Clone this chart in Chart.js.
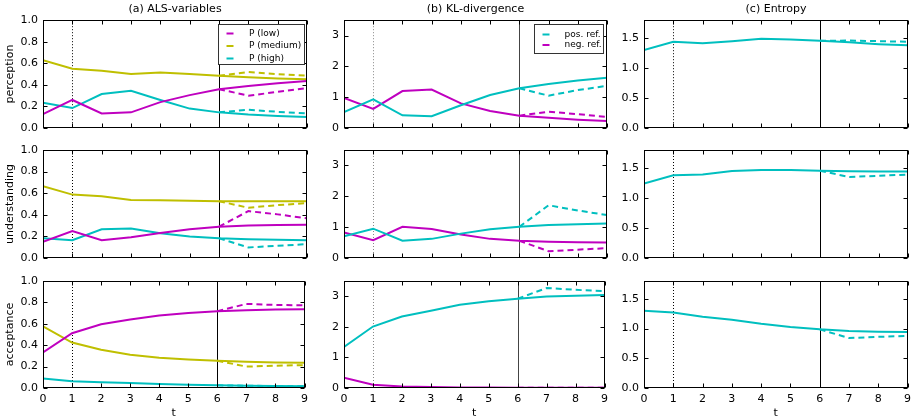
<!DOCTYPE html>
<html>
<head>
<meta charset="utf-8">
<script src="https://cdn.jsdelivr.net/npm/chart.js@4.4.0/dist/chart.umd.min.js"></script>
<style>
  body { margin: 0; background: #fff; }
  #wrap { position: relative; width: 916px; height: 420px; overflow: hidden; }
  #wrap canvas { position: absolute; }
</style>
</head>
<body>
<div id="wrap"></div>
<script>
// ---- data ----
const T = [0, 1, 2, 3, 4, 5, 6, 7, 8, 9]
const T_REF = [6, 7, 8, 9]
const T_TICKS = [0, 1, 2, 3, 4, 5, 6, 7, 8, 9]
const ALS_TICKS = [0, 0.2, 0.4, 0.6, 0.8, 1.0]
const KL_TICKS = [0, 1, 2, 3]
const ENT_TICKS = [0, 0.5, 1.0, 1.5]
const ROW_LABELS = ['perception', 'understanding', 'acceptance']
const COL_TITLES = ['(a) ALS-variables', '(b) KL-divergence', '(c) Entropy']
const ALS_LEGEND = ['P (low)', 'P (medium)', 'P (high)']
const KL_LEGEND = ['pos. ref.', 'neg. ref.']

// perception
const percLow = [0.13, 0.26, 0.135, 0.145, 0.24, 0.305, 0.36, 0.39, 0.415, 0.435]
const percLowRef = [0.36, 0.30, 0.335, 0.37]
const percMed = [0.63, 0.55, 0.53, 0.50, 0.515, 0.50, 0.485, 0.47, 0.46, 0.452]
const percMedRef = [0.485, 0.52, 0.50, 0.485]
const percHigh = [0.235, 0.185, 0.315, 0.345, 0.26, 0.18, 0.145, 0.125, 0.112, 0.103]
const percHighRef = [0.145, 0.17, 0.15, 0.135]
const percKlPos = [0.52, 0.93, 0.41, 0.38, 0.74, 1.07, 1.29, 1.43, 1.54, 1.63]
const percKlPosRef = [1.29, 1.05, 1.23, 1.37]
const percKlNeg = [0.98, 0.62, 1.20, 1.25, 0.80, 0.55, 0.40, 0.33, 0.27, 0.23]
const percKlNegRef = [0.40, 0.53, 0.45, 0.36]
const percEnt = [1.30, 1.44, 1.415, 1.45, 1.49, 1.478, 1.455, 1.43, 1.40, 1.38]
const percEntRef = [1.455, 1.46, 1.45, 1.44]

// understanding
const undLow = [0.15, 0.25, 0.165, 0.193, 0.232, 0.266, 0.29, 0.30, 0.306, 0.309]
const undLowRef = [0.29, 0.434, 0.404, 0.367]
const undMed = [0.664, 0.587, 0.572, 0.538, 0.535, 0.529, 0.526, 0.526, 0.526, 0.526]
const undMedRef = [0.526, 0.465, 0.49, 0.508]
const undHigh = [0.183, 0.165, 0.266, 0.272, 0.229, 0.199, 0.183, 0.174, 0.168, 0.165]
const undHighRef = [0.183, 0.098, 0.113, 0.128]
const undKlPos = [0.70, 0.95, 0.56, 0.62, 0.79, 0.93, 1.01, 1.07, 1.09, 1.12]
const undKlPosRef = [1.01, 1.71, 1.54, 1.39]
const undKlNeg = [0.83, 0.58, 1.01, 0.94, 0.76, 0.62, 0.56, 0.53, 0.51, 0.50]
const undKlNegRef = [0.56, 0.22, 0.27, 0.32]
const undEnt = [1.24, 1.38, 1.39, 1.45, 1.467, 1.467, 1.455, 1.445, 1.44, 1.44]
const undEntRef = [1.455, 1.35, 1.37, 1.39]

// acceptance
const accLow = [0.332, 0.512, 0.595, 0.64, 0.677, 0.70, 0.717, 0.727, 0.733, 0.736]
const accLowRef = [0.717, 0.786, 0.776, 0.773]
const accMed = [0.575, 0.425, 0.357, 0.31, 0.283, 0.267, 0.255, 0.245, 0.239, 0.236]
const accMedRef = [0.255, 0.20, 0.208, 0.214]
const accHigh = [0.09, 0.062, 0.053, 0.047, 0.037, 0.031, 0.025, 0.022, 0.019, 0.016]
const accHighRef = [0.025, 0.021, 0.018, 0.016]
const accKlPos = [1.34, 2.01, 2.34, 2.53, 2.72, 2.84, 2.92, 2.99, 3.02, 3.04]
const accKlPosRef = [2.92, 3.27, 3.21, 3.17]
const accKlNeg = [0.34, 0.11, 0.05, 0.03, 0.02, 0.015, 0.01, 0.01, 0.01, 0.01]
const accKlNegRef = [0.01, 0.008, 0.008, 0.008]
const accEnt = [1.30, 1.27, 1.20, 1.15, 1.08, 1.026, 0.987, 0.96, 0.948, 0.943]
const accEntRef = [0.987, 0.84, 0.86, 0.876]

// ---- style ----
const MAGENTA = '#bf00bf'
const YELLOW = '#bfbf00'
const CYAN = '#00bfbf'
const FONT = 'DejaVu Sans'

// panel geometry: canvas left/width per column, top/height per row
const COLS = [
  { left: 0, width: 313, padL: 43, padR: 6 },
  { left: 310, width: 303, padL: 34, padR: 6 },
  { left: 612, width: 304, padL: 32, padR: 8 }
]
const ROWS = [
  { top: 0, height: 141, padT: 0, padB: 13 },
  { top: 137, height: 134, padT: 13, padB: 13 },
  { top: 268, height: 152, padT: 13, padB: 32 }
]

function line(xs, ys, color, dashed) {
  return {
    data: xs.map((x, i) => ({ x: x, y: ys[i] })),
    borderColor: color,
    borderWidth: 2,
    borderDash: dashed ? [6, 4] : [],
    pointRadius: 0,
    tension: 0,
    fill: false
  }
}

// frame, inside ticks, t=1 / t=6 markers
const framePlugin = {
  id: 'frame',
  beforeDatasetsDraw(chart, args, opts) {
    const { ctx, chartArea: a, scales } = chart
    ctx.save()
    ctx.lineWidth = 1
    const x1 = Math.round(scales.x.getPixelForValue(1)) + 0.5
    const x6 = Math.round(scales.x.getPixelForValue(6)) + 0.5
    ctx.strokeStyle = opts.dotColor
    ctx.setLineDash([1, 2])
    ctx.beginPath(); ctx.moveTo(x1, a.top); ctx.lineTo(x1, a.bottom); ctx.stroke()
    ctx.setLineDash([])
    ctx.strokeStyle = opts.lineColor
    ctx.beginPath(); ctx.moveTo(x6, a.top); ctx.lineTo(x6, a.bottom); ctx.stroke()
    ctx.restore()
  },
  afterDatasetsDraw(chart) {
    const { ctx, chartArea: a, scales } = chart
    const L = Math.round(a.left) + 0.5, R = Math.round(a.right) - 0.5
    const Tp = Math.round(a.top) + 0.5, B = Math.round(a.bottom) - 0.5
    ctx.save()
    ctx.strokeStyle = '#000'
    ctx.lineWidth = 1
    ctx.strokeRect(L, Tp, R - L, B - Tp)
    ctx.beginPath()
    scales.x.ticks.forEach(t => {
      const px = Math.round(scales.x.getPixelForValue(t.value)) + 0.5
      ctx.moveTo(px, B); ctx.lineTo(px, B - 4)
      ctx.moveTo(px, Tp); ctx.lineTo(px, Tp + 4)
    })
    scales.y.ticks.forEach(t => {
      const py = Math.round(scales.y.getPixelForValue(t.value)) + 0.5
      ctx.moveTo(L, py); ctx.lineTo(L + 4, py)
      ctx.moveTo(R, py); ctx.lineTo(R - 4, py)
    })
    ctx.stroke()
    ctx.restore()
  }
}

// boxed legend inside the plot
const boxLegend = {
  id: 'boxLegend',
  afterDraw(chart, args, o) {
    if (!o.items) return
    const { ctx, chartArea: a } = chart
    const x0 = Math.round(a.right - o.right - o.width) + 0.5
    const y0 = Math.round(a.top + o.top) + 0.5
    ctx.save()
    ctx.fillStyle = '#fff'
    ctx.fillRect(x0, y0, o.width, o.height)
    ctx.strokeStyle = '#333'
    ctx.lineWidth = 1
    ctx.strokeRect(x0, y0, o.width, o.height)
    ctx.font = '9px "' + FONT + '"'
    ctx.textBaseline = 'middle'
    o.items.forEach((it, i) => {
      const y = y0 + o.firstRow + i * o.rowGap
      ctx.strokeStyle = it.color
      ctx.lineWidth = 2
      ctx.beginPath(); ctx.moveTo(x0 + 8, y); ctx.lineTo(x0 + 15, y); ctx.stroke()
      ctx.fillStyle = '#000'
      ctx.fillText(it.label, x0 + o.textX, y)
    })
    ctx.restore()
  }
}

const panels = [
  // perception
  [[line(T_REF, percLowRef, MAGENTA, true), line(T_REF, percMedRef, YELLOW, true), line(T_REF, percHighRef, CYAN, true),
    line(T, percLow, MAGENTA), line(T, percMed, YELLOW), line(T, percHigh, CYAN)],
   [line(T_REF, percKlPosRef, CYAN, true), line(T_REF, percKlNegRef, MAGENTA, true),
    line(T, percKlPos, CYAN), line(T, percKlNeg, MAGENTA)],
   [line(T_REF, percEntRef, CYAN, true), line(T, percEnt, CYAN)]],
  // understanding
  [[line(T_REF, undLowRef, MAGENTA, true), line(T_REF, undMedRef, YELLOW, true), line(T_REF, undHighRef, CYAN, true),
    line(T, undLow, MAGENTA), line(T, undMed, YELLOW), line(T, undHigh, CYAN)],
   [line(T_REF, undKlPosRef, CYAN, true), line(T_REF, undKlNegRef, MAGENTA, true),
    line(T, undKlPos, CYAN), line(T, undKlNeg, MAGENTA)],
   [line(T_REF, undEntRef, CYAN, true), line(T, undEnt, CYAN)]],
  // acceptance
  [[line(T_REF, accLowRef, MAGENTA, true), line(T_REF, accMedRef, YELLOW, true), line(T_REF, accHighRef, CYAN, true),
    line(T, accLow, MAGENTA), line(T, accMed, YELLOW), line(T, accHigh, CYAN)],
   [line(T_REF, accKlPosRef, CYAN, true), line(T_REF, accKlNegRef, MAGENTA, true),
    line(T, accKlPos, CYAN), line(T, accKlNeg, MAGENTA)],
   [line(T_REF, accEntRef, CYAN, true), line(T, accEnt, CYAN)]]
]

const Y_SETUP = [
  { max: 1.0, ticks: ALS_TICKS, fmt: v => v.toFixed(1) },
  { max: 3.5, ticks: KL_TICKS, fmt: v => String(v) },
  { max: 1.8, ticks: ENT_TICKS, fmt: v => v.toFixed(1) }
]

const legends = {
  '0-0': { items: ALS_LEGEND.map((l, i) => ({ label: l, color: [MAGENTA, YELLOW, CYAN][i] })),
           right: 3, top: 4, width: 86, height: 40, firstRow: 9, rowGap: 12.5, textX: 30.5 },
  '0-1': { items: KL_LEGEND.map((l, i) => ({ label: l, color: [CYAN, MAGENTA][i] })),
           right: 4, top: 4, width: 69, height: 29, firstRow: 10, rowGap: 10.5, textX: 30 }
}

const wrap = document.getElementById('wrap')
for (let r = 0; r < 3; r++) {
  for (let c = 0; c < 3; c++) {
    const col = COLS[c], row = ROWS[r], ys = Y_SETUP[c]
    const cv = document.createElement('canvas')
    cv.width = col.width
    cv.height = row.height
    cv.style.left = col.left + 'px'
    cv.style.top = row.top + 'px'
    wrap.appendChild(cv)

    new Chart(cv, {
      type: 'line',
      data: { datasets: panels[r][c] },
      plugins: [framePlugin, boxLegend],
      options: {
        responsive: false,
        animation: false,
        devicePixelRatio: 1,
        layout: { padding: { top: row.padT, right: col.padR, left: 0, bottom: 0 } },
        plugins: {
          legend: { display: false },
          tooltip: { enabled: false },
          title: {
            display: r === 0,
            text: COL_TITLES[c],
            fullSize: false,
            color: '#000',
            font: { family: FONT, size: 11, weight: 'normal', lineHeight: 1.2 },
            padding: { top: 3, bottom: 4 }
          },
          frame: { dotColor: c === 1 ? '#888' : '#000', lineColor: c === 1 ? '#444' : '#000' },
          boxLegend: legends[r + '-' + c] || {}
        },
        scales: {
          x: {
            type: 'linear',
            min: 0,
            max: 9,
            afterBuildTicks: s => { s.ticks = T_TICKS.map(v => ({ value: v })) },
            afterFit: s => { s.height = row.padB },
            grid: { display: false, drawTicks: false },
            border: { display: false },
            ticks: { display: r === 2, padding: 5, color: '#000', maxRotation: 0,
                     font: { family: FONT, size: 11 } },
            title: { display: r === 2, text: 't', color: '#000', padding: { top: 0, bottom: 0 },
                     font: { family: FONT, size: 11 } }
          },
          y: {
            type: 'linear',
            min: 0,
            max: ys.max,
            afterBuildTicks: s => { s.ticks = ys.ticks.map(v => ({ value: v })) },
            afterFit: s => { s.width = col.padL },
            grid: { display: false, drawTicks: false },
            border: { display: false },
            ticks: { padding: 5, color: '#000', callback: ys.fmt,
                     font: { family: FONT, size: 11 } },
            title: { display: c === 0, text: ROW_LABELS[r], color: '#000',
                     padding: { top: 4, bottom: 0 }, font: { family: FONT, size: 11 } }
          }
        }
      }
    })
  }
}
</script>
</body>
</html>
